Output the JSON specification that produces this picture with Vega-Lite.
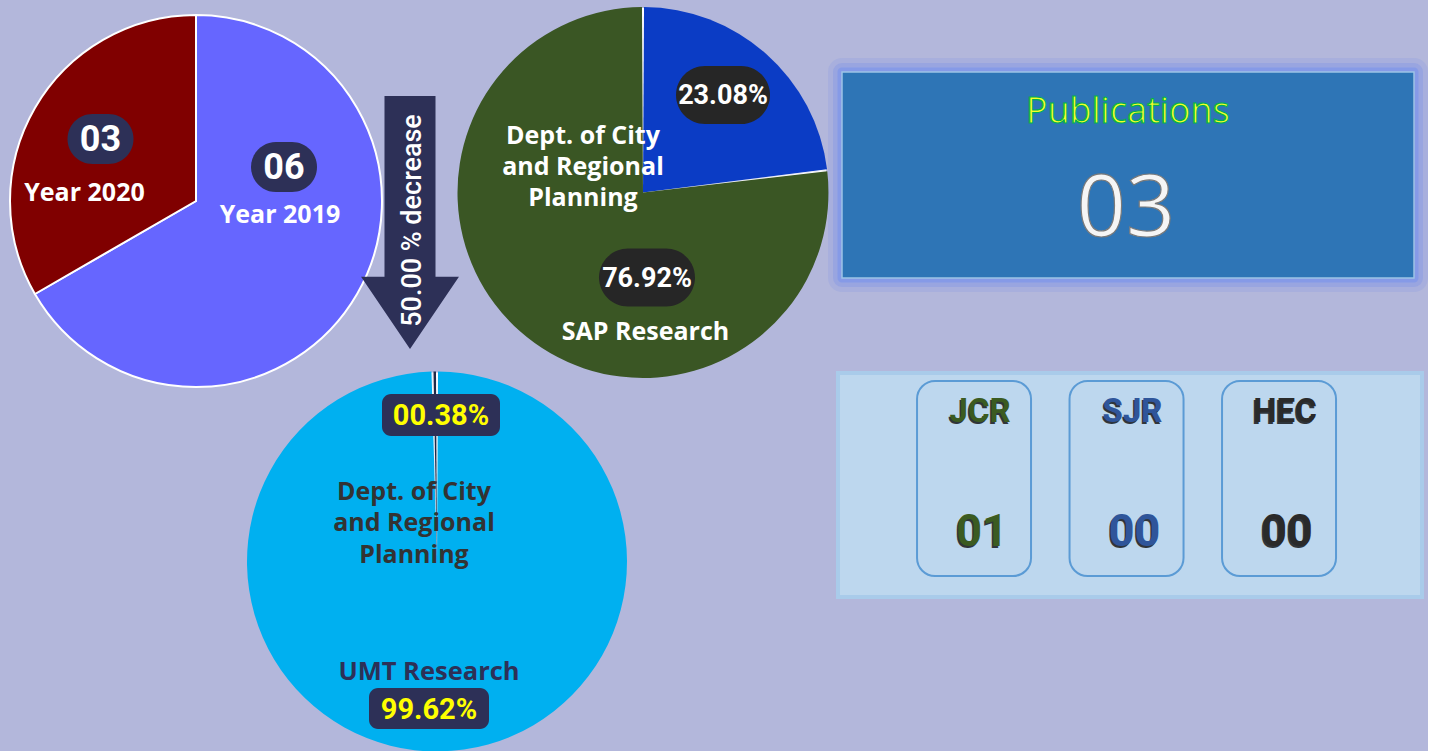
{
  "$schema": "https://vega.github.io/schema/vega-lite/v6.json",
  "background": "#b3b7db",
  "padding": {"left": 6, "top": 7, "right": 0, "bottom": 0},
  "spacing": 0,
  "bounds": "flush",
  "align": "each",
  "columns": 4,
  "resolve": {"scale": {"color": "independent", "theta": "independent", "x": "independent", "y": "independent"}},
  "config": {"view": {"stroke": null}},
  "datasets": {
    "byYear": [
      {"year": "Year 2019", "count": 6, "order": 1},
      {"year": "Year 2020", "count": 3, "order": 2}
    ],
    "share2020": [
      {"unit": "Dept. of City\nand Regional\nPlanning", "share": 0.2308, "order": 1},
      {"unit": "SAP Research", "share": 0.7692, "order": 2}
    ],
    "umtShare": [
      {"unit": "UMT Research", "share": 0.9962, "order": 1},
      {"unit": "Dept. of City\nand Regional\nPlanning", "share": 0.0038, "order": 2}
    ],
    "change": [{"from": 6, "to": 3, "label": "50.00 % decrease"}],
    "total": [{"label": "Publications", "count": 3}],
    "indexed": [
      {"index": "JCR", "count": 1},
      {"index": "SJR", "count": 0},
      {"index": "HEC", "count": 0}
    ]
  },
  "concat": [
    {
      "width": 208,
      "height": 258,
      "data": {"name": "byYear"},
      "layer": [
        {
          "mark": {"type": "arc", "radius": 186, "stroke": "#ffffff", "strokeWidth": 2},
          "encoding": {
            "theta": {"field": "count", "type": "quantitative", "stack": true},
            "color": {"field": "year", "type": "nominal", "scale": {"domain": ["Year 2019", "Year 2020"], "range": ["#6666ff", "#800000"]}, "legend": null},
            "order": {"field": "order", "type": "quantitative"}
          }
        },
        {
          "transform": [{"filter": "datum.order === 2"}],
          "mark": {"type": "point", "shape": "M-8,-25L8,-25A25,25,0,0,1,8,25L-8,25A25,25,0,0,1,-8,-25Z", "size": 4, "filled": true, "color": "#2d3057", "opacity": 1, "strokeWidth": 0, "xOffset": -95.5, "yOffset": -62},
          "encoding": {}
        },
        {
          "transform": [{"filter": "datum.order === 2"}],
          "mark": {"type": "text", "dx": -95.5, "dy": -61, "font": "Roboto", "fontWeight": "bold", "fontSize": 36, "color": "#ffffff"},
          "encoding": {"text": {"field": "count", "type": "quantitative", "format": "02d"}}
        },
        {
          "transform": [{"filter": "datum.order === 2"}],
          "mark": {"type": "text", "dx": -111.5, "dy": -8, "font": "Open Sans", "fontWeight": "bold", "fontSize": 25, "color": "#ffffff"},
          "encoding": {"text": {"field": "year", "type": "nominal"}}
        },
        {
          "transform": [{"filter": "datum.order === 1"}],
          "mark": {"type": "point", "shape": "M-8,-25L8,-25A25,25,0,0,1,8,25L-8,25A25,25,0,0,1,-8,-25Z", "size": 4, "filled": true, "color": "#2d3057", "opacity": 1, "strokeWidth": 0, "xOffset": 88, "yOffset": -34},
          "encoding": {}
        },
        {
          "transform": [{"filter": "datum.order === 1"}],
          "mark": {"type": "text", "dx": 88, "dy": -33, "font": "Roboto", "fontWeight": "bold", "fontSize": 36, "color": "#ffffff"},
          "encoding": {"text": {"field": "count", "type": "quantitative", "format": "02d"}}
        },
        {
          "transform": [{"filter": "datum.order === 1"}],
          "mark": {"type": "text", "dx": 84, "dy": 14, "font": "Open Sans", "fontWeight": "bold", "fontSize": 25, "color": "#ffffff"},
          "encoding": {"text": {"field": "year", "type": "nominal"}}
        }
      ]
    },
    {
      "width": 220,
      "height": 301,
      "data": {"name": "change"},
      "layer": [
        {
          "mark": {"type": "point", "shape": "M-0.2016,-1L0.2016,-1L0.2016,0.428L0.387,0.428L0,1L-0.387,0.428L-0.2016,0.428Z", "size": 64009, "filled": true, "color": "#2d3057", "opacity": 1, "strokeWidth": 0},
          "encoding": {}
        },
        {
          "mark": {"type": "text", "angle": 270, "font": "Roboto", "fontWeight": 500, "fontSize": 27, "color": "#ffffff", "dx": 2, "dy": 3},
          "encoding": {"text": {"field": "label", "type": "nominal"}}
        }
      ]
    },
    {
      "width": 138,
      "height": 241,
      "data": {"name": "share2020"},
      "layer": [
        {
          "mark": {"type": "arc", "radius": 184.5, "color": "#ffffff"},
          "encoding": {
            "theta": {"field": "share", "type": "quantitative", "stack": true},
            "detail": {"field": "unit", "type": "nominal"},
            "order": {"field": "order", "type": "quantitative"}
          }
        },
        {
          "mark": {"type": "arc", "radius": 185.5, "padAngle": 0.011},
          "encoding": {
            "theta": {"field": "share", "type": "quantitative", "stack": true},
            "color": {"field": "unit", "type": "nominal", "scale": {"domain": ["Dept. of City\nand Regional\nPlanning", "SAP Research"], "range": ["#0b3cc5", "#3a5624"]}, "legend": null},
            "order": {"field": "order", "type": "quantitative"}
          }
        },
        {
          "transform": [{"filter": "datum.order === 1"}],
          "mark": {"type": "point", "shape": "M-18,-29L18,-29A29,29,0,0,1,18,29L-18,29A29,29,0,0,1,-18,-29Z", "size": 4, "filled": true, "color": "#262626", "opacity": 1, "strokeWidth": 0, "xOffset": 80, "yOffset": -97.5},
          "encoding": {}
        },
        {
          "transform": [{"filter": "datum.order === 1"}],
          "mark": {"type": "text", "dx": 80, "dy": -96.5, "font": "Roboto", "fontWeight": "bold", "fontSize": 27, "color": "#ffffff"},
          "encoding": {"text": {"field": "share", "type": "quantitative", "format": "06.2%"}}
        },
        {
          "transform": [{"filter": "datum.order === 2"}],
          "mark": {"type": "point", "shape": "M-19,-29L19,-29A29,29,0,0,1,19,29L-19,29A29,29,0,0,1,-19,-29Z", "size": 4, "filled": true, "color": "#262626", "opacity": 1, "strokeWidth": 0, "xOffset": 4, "yOffset": 85},
          "encoding": {}
        },
        {
          "transform": [{"filter": "datum.order === 2"}],
          "mark": {"type": "text", "dx": 4, "dy": 86, "font": "Roboto", "fontWeight": "bold", "fontSize": 27, "color": "#ffffff"},
          "encoding": {"text": {"field": "share", "type": "quantitative", "format": "06.2%"}}
        },
        {
          "transform": [{"filter": "datum.order === 1"}],
          "mark": {"type": "text", "dx": -60, "dy": -56.5, "lineBreak": "\n", "lineHeight": 31, "font": "Open Sans", "fontWeight": "bold", "fontSize": 25, "color": "#ffffff"},
          "encoding": {"text": {"field": "unit", "type": "nominal"}}
        },
        {
          "transform": [{"filter": "datum.order === 2"}],
          "mark": {"type": "text", "dx": 2.5, "dy": 139, "font": "Open Sans", "fontWeight": "bold", "fontSize": 25, "color": "#ffffff"},
          "encoding": {"text": {"field": "unit", "type": "nominal"}}
        }
      ]
    },
    {
      "width": 580,
      "height": 206,
      "data": {"name": "total"},
      "layer": [
        {
          "mark": {"type": "rect", "filled": false, "stroke": "#6a86ec", "strokeWidth": 28, "strokeOpacity": 0.15, "strokeJoin": "round"},
          "encoding": {"x": {"datum": "Publications", "type": "nominal", "scale": {"type": "band", "paddingInner": 0, "paddingOuter": 0.007}, "axis": null}}
        },
        {
          "mark": {"type": "rect", "filled": false, "stroke": "#6a86ec", "strokeWidth": 18, "strokeOpacity": 0.25, "strokeJoin": "round"},
          "encoding": {"x": {"datum": "Publications", "type": "nominal", "axis": null}}
        },
        {
          "mark": {"type": "rect", "filled": false, "stroke": "#6f8ef0", "strokeWidth": 9, "strokeOpacity": 0.45, "strokeJoin": "round"},
          "encoding": {"x": {"datum": "Publications", "type": "nominal", "axis": null}}
        },
        {
          "mark": {"type": "rect", "fill": "#2e75b6", "stroke": "#9dc3e6", "strokeWidth": 1.5},
          "encoding": {"x": {"datum": "Publications", "type": "nominal", "axis": null}}
        },
        {
          "mark": {"type": "text", "dy": -63, "font": "Open Sans", "fontSize": 36, "fill": "#f4ff2a", "stroke": "#00b050", "strokeWidth": 1.2},
          "encoding": {"text": {"field": "label", "type": "nominal"}}
        },
        {
          "mark": {"type": "text", "dx": -2, "dy": 35, "font": "Open Sans", "fontSize": 86, "fill": "#f5f5f5", "stroke": "#7a7a7a", "strokeWidth": 1.2},
          "encoding": {"text": {"field": "count", "type": "quantitative", "format": "02d"}}
        }
      ]
    },
    {"width": 10, "height": 1, "data": {"name": "change"}, "mark": {"type": "text"}, "encoding": {"text": {"value": ""}}},
    {
      "width": 274,
      "height": 377,
      "data": {"name": "umtShare"},
      "layer": [
        {
          "mark": {"type": "arc", "radius": 189, "color": "#ffffff"},
          "encoding": {
            "theta": {"field": "share", "type": "quantitative", "stack": true},
            "detail": {"field": "unit", "type": "nominal"},
            "order": {"field": "order", "type": "quantitative"}
          }
        },
        {
          "mark": {"type": "arc", "radius": 190, "padAngle": 0.0105},
          "encoding": {
            "theta": {"field": "share", "type": "quantitative", "stack": true},
            "color": {"field": "unit", "type": "nominal", "scale": {"domain": ["UMT Research", "Dept. of City\nand Regional\nPlanning"], "range": ["#00b0f0", "#1f2a4a"]}, "legend": null},
            "order": {"field": "order", "type": "quantitative"}
          }
        },
        {
          "transform": [{"filter": "datum.order === 2"}],
          "mark": {"type": "point", "shape": "M-50,-21L50,-21A9,9,0,0,1,59,-12L59,12A9,9,0,0,1,50,21L-50,21A9,9,0,0,1,-59,12L-59,-12A9,9,0,0,1,-50,-21Z", "size": 4, "filled": true, "color": "#2d3057", "opacity": 1, "strokeWidth": 0, "xOffset": 4, "yOffset": -146.4},
          "encoding": {}
        },
        {
          "transform": [{"filter": "datum.order === 2"}],
          "mark": {"type": "text", "dx": 4, "dy": -145.4, "font": "Roboto", "fontWeight": "bold", "fontSize": 29, "color": "#ffff00"},
          "encoding": {"text": {"field": "share", "type": "quantitative", "format": "06.2%"}}
        },
        {
          "transform": [{"filter": "datum.order === 2"}],
          "mark": {"type": "text", "dx": -23, "dy": -69.7, "lineBreak": "\n", "lineHeight": 31.5, "font": "Open Sans", "fontWeight": "bold", "fontSize": 25, "color": "#333333"},
          "encoding": {"text": {"field": "unit", "type": "nominal"}}
        },
        {
          "transform": [{"filter": "datum.order === 1"}],
          "mark": {"type": "text", "dx": -8, "dy": 110.3, "font": "Open Sans", "fontWeight": "bold", "fontSize": 25.5, "color": "#2d3057"},
          "encoding": {"text": {"field": "unit", "type": "nominal"}}
        },
        {
          "transform": [{"filter": "datum.order === 1"}],
          "mark": {"type": "point", "shape": "M-51,-20.5L51,-20.5A9,9,0,0,1,60,-11.5L60,11.5A9,9,0,0,1,51,20.5L-51,20.5A9,9,0,0,1,-60,11.5L-60,-11.5A9,9,0,0,1,-51,-20.5Z", "size": 4, "filled": true, "color": "#2d3057", "opacity": 1, "strokeWidth": 0, "xOffset": -8, "yOffset": 147},
          "encoding": {}
        },
        {
          "transform": [{"filter": "datum.order === 1"}],
          "mark": {"type": "text", "dx": -8, "dy": 148, "font": "Roboto", "fontWeight": "bold", "fontSize": 29, "color": "#ffff00"},
          "encoding": {"text": {"field": "share", "type": "quantitative", "format": "06.2%"}}
        }
      ]
    },
    {"width": 264, "height": 1, "data": {"name": "change"}, "mark": {"type": "text"}, "encoding": {"text": {"value": ""}}},
    {
      "width": 584,
      "height": 224,
      "data": {"name": "indexed"},
      "view": {"fill": "#bdd7ee", "stroke": "#a9cbea", "strokeWidth": 4},
      "layer": [
        {
          "mark": {"type": "rect", "filled": false, "stroke": "#5b9bd5", "strokeWidth": 2, "cornerRadius": 18},
          "encoding": {
            "x": {"field": "index", "type": "nominal", "sort": ["JCR", "SJR", "HEC"], "scale": {"type": "band", "paddingInner": 0.2525, "paddingOuter": 0.541, "align": 0.479}, "axis": null},
            "y": {"datum": "counts", "type": "nominal", "scale": {"type": "band", "paddingInner": 0, "paddingOuter": 0.0744, "align": 0.276}, "axis": null}
          }
        },
        {
          "mark": {"type": "text", "dx": 4.5, "dy": -71.5, "font": "Roboto", "fontWeight": "bold", "fontSize": 33, "color": "#000000", "opacity": 0.75},
          "encoding": {
            "x": {"field": "index", "type": "nominal", "sort": ["JCR", "SJR", "HEC"], "axis": null},
            "text": {"field": "index", "type": "nominal"}
          }
        },
        {
          "mark": {"type": "text", "dx": 6, "dy": -73, "font": "Roboto", "fontWeight": "bold", "fontSize": 33},
          "encoding": {
            "x": {"field": "index", "type": "nominal", "sort": ["JCR", "SJR", "HEC"], "axis": null},
            "text": {"field": "index", "type": "nominal"},
            "color": {"field": "index", "type": "nominal", "scale": {"domain": ["JCR", "SJR", "HEC"], "range": ["#3b5b21", "#2f559a", "#2a2a2a"]}, "legend": null}
          }
        },
        {
          "mark": {"type": "text", "dx": 6.5, "dy": 48.5, "font": "Roboto", "fontWeight": "bold", "fontSize": 45, "color": "#000000", "opacity": 0.75},
          "encoding": {
            "x": {"field": "index", "type": "nominal", "sort": ["JCR", "SJR", "HEC"], "axis": null},
            "text": {"field": "count", "type": "quantitative", "format": "02d"}
          }
        },
        {
          "mark": {"type": "text", "dx": 8, "dy": 47, "font": "Roboto", "fontWeight": "bold", "fontSize": 45},
          "encoding": {
            "x": {"field": "index", "type": "nominal", "sort": ["JCR", "SJR", "HEC"], "axis": null},
            "text": {"field": "count", "type": "quantitative", "format": "02d"},
            "color": {"field": "index", "type": "nominal", "scale": {"domain": ["JCR", "SJR", "HEC"], "range": ["#3b5b21", "#2f559a", "#2a2a2a"]}, "legend": null}
          }
        }
      ]
    }
  ]
}
